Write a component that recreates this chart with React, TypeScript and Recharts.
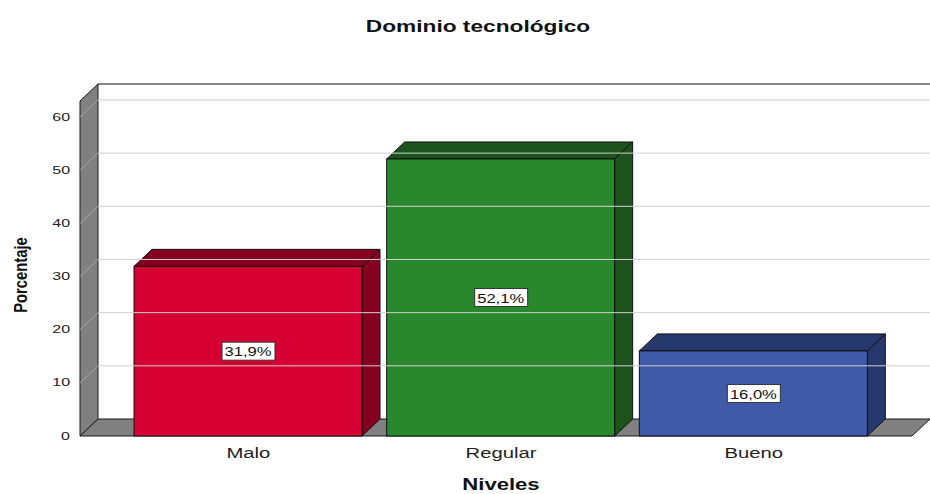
import React from 'react';
import {
  BarChart,
  Bar,
  XAxis,
  YAxis,
  ReferenceArea,
  ReferenceLine,
  LabelList,
} from 'recharts';

const categories = ['Malo', 'Regular', 'Bueno'];
const percentages = [31.9, 52.1, 16.0];
const valueLabels = ['31,9%', '52,1%', '16,0%'];
const yTicks = [0, 10, 20, 30, 40, 50, 60];
const gridValues = [10, 20, 30, 40, 50, 60];

const frontColors = ['#d70032', '#29882b', '#3f5aa9'];
const shadeColors = ['#86001f', '#1c521c', '#27396c'];

const FONT = '"Liberation Sans", Arial, sans-serif';
const DX = 18; // depth offset of the 3D effect
const DY = 17;
const PAD = { left: 42, right: 32 };
const STRETCH = 1.42; // SPSS output is wide, text is stretched horizontally

const data = categories.map((c, i) => ({ name: c, value: percentages[i], label: valueLabels[i] }));

const Walls = (props: any) => {
  const { x, y, width, height } = props;
  // reference area covers the band range, walls also cover the axis padding
  const left = x - PAD.left;
  const right = x + width + PAD.right;
  const top = y;
  const bottom = y + height;
  return (
    <g>
      <rect x={left + DX} y={top - DY} width={right - left + 10} height={height} fill="#ffffff" />
      <line x1={left + DX} y1={top - DY} x2={right + DX + 10} y2={top - DY} stroke="#111" strokeWidth={1} />
      <polygon
        points={`${left},${bottom} ${left},${top} ${left + DX},${top - DY} ${left + DX},${bottom - DY}`}
        fill="#808080"
        stroke="#1a1a1a"
        strokeWidth={1}
      />
      <polygon
        points={`${left},${bottom} ${right},${bottom} ${right + DX},${bottom - DY} ${left + DX},${bottom - DY}`}
        fill="#808080"
        stroke="#1a1a1a"
        strokeWidth={1}
      />
    </g>
  );
};

const GridLine3D = (props: any) => {
  const { x1, y1, x2, y2 } = props;
  return (
    <g>
      <line x1={x1 + DX} y1={y1 - DY} x2={x2 + DX + 10} y2={y2 - DY} stroke="#d0d0d0" strokeWidth={1} />
      <line x1={x1} y1={y1} x2={x1 + DX} y2={y1 - DY} stroke="#a8a8a8" strokeWidth={1} />
    </g>
  );
};

const Bar3D = (props: any) => {
  const { x, y, width, height, index } = props;
  const front = frontColors[index];
  const shade = shadeColors[index];
  return (
    <g>
      <polygon
        points={`${x},${y} ${x + DX},${y - DY} ${x + width + DX},${y - DY} ${x + width},${y}`}
        fill={shade}
        stroke="#111"
        strokeWidth={1}
      />
      <polygon
        points={`${x + width},${y} ${x + width + DX},${y - DY} ${x + width + DX},${y + height - DY} ${x + width},${y + height}`}
        fill={shade}
        stroke="#111"
        strokeWidth={1}
      />
      <rect x={x} y={y} width={width} height={height} fill={front} stroke="#111" strokeWidth={1} />
    </g>
  );
};

const ValueBox = (props: any) => {
  const { x, y, width, height, value } = props;
  const cx = x + width / 2;
  const cy = y + height / 2;
  return (
    <g>
      <rect x={cx - 26} y={cy - 9} width={53} height={18} fill="#fff" stroke="#333" strokeWidth={1} />
      <text
        transform={`translate(${cx},${cy + 1}) scale(1.38,1)`}
        textAnchor="middle"
        dominantBaseline="central"
        fontFamily={FONT}
        fontSize={12}
        fill="#111"
      >
        {value}
      </text>
    </g>
  );
};

const YTick = (props: any) => {
  const { y, payload } = props;
  return (
    <text
      transform={`translate(70,${y}) scale(1.45,1)`}
      textAnchor="end"
      dominantBaseline="central"
      fontFamily={FONT}
      fontSize={11}
      fill="#222"
    >
      {payload.value}
    </text>
  );
};

const XTick = (props: any) => {
  const { x, payload } = props;
  return (
    <text
      transform={`translate(${x},458) scale(1.35,1)`}
      textAnchor="middle"
      fontFamily={FONT}
      fontSize={15}
      fill="#222"
    >
      {payload.value}
    </text>
  );
};

const XTitle = () => (
  <g>
    <text
      transform={`translate(478,32) scale(${STRETCH},1)`}
      textAnchor="middle"
      fontFamily={FONT}
      fontSize={16}
      fontWeight="bold"
      fill="#111"
    >
      Dominio tecnológico
    </text>
    <text
      transform={`translate(501,490) scale(1.38,1)`}
      textAnchor="middle"
      fontFamily={FONT}
      fontSize={16}
      fontWeight="bold"
      fill="#111"
    >
      Niveles
    </text>
  </g>
);

const YTitle = () => (
  <text
    transform="translate(21,275) rotate(-90) scale(0.78,1)"
    textAnchor="middle"
    dominantBaseline="central"
    fontFamily={FONT}
    fontSize={19}
    fontWeight="bold"
    fill="#111"
  >
    Porcentaje
  </text>
);

export default function App() {
  return (
    <div style={{ position: 'absolute', left: 0, top: 0, width: 930, height: 494, background: '#fff' }}>
      <BarChart
        width={930}
        height={494}
        data={data}
        margin={{ top: 101, right: 18, bottom: 0, left: 0 }}
      >
        <XAxis
          dataKey="name"
          height={58}
          axisLine={false}
          tickLine={false}
          padding={PAD}
          tick={<XTick />}
          label={<XTitle />}
        />
        <YAxis
          width={80}
          domain={[0, 63]}
          ticks={yTicks}
          axisLine={false}
          tickLine={false}
          tick={<YTick />}
          label={<YTitle />}
        />
        <ReferenceArea y1={0} y2={63} shape={<Walls />} />
        {gridValues.map((v) => (
          <ReferenceLine key={v} y={v} shape={<GridLine3D />} />
        ))}
        <Bar dataKey="value" barSize={228} shape={<Bar3D />} isAnimationActive={false}>
          <LabelList dataKey="label" content={<ValueBox />} />
        </Bar>
      </BarChart>
    </div>
  );
}
